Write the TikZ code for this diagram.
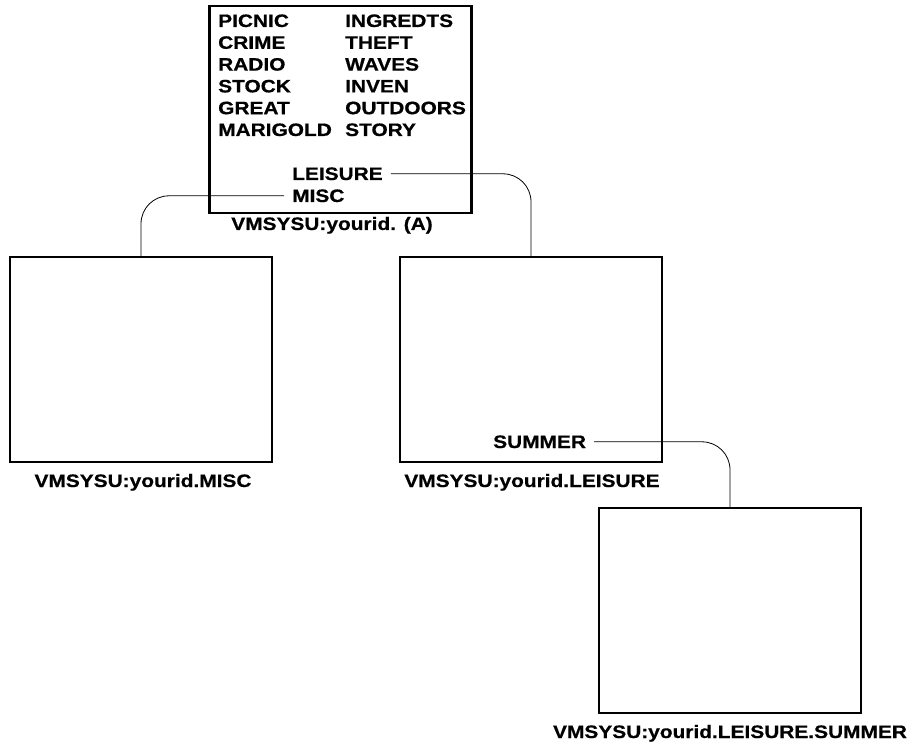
\documentclass[tikz,border=0pt]{standalone}
\usepackage{fontspec}
\newfontfamily\dirfont[FakeStretch=1.16, FakeBold=0.6]{Liberation Sans}
\usetikzlibrary{positioning}
\tikzset{
  panel/.style = {draw, line width = 2.4pt, minimum width = 262pt, minimum height = 205pt, inner sep = 0pt},
  word/.style = {anchor = base west, inner sep = 0pt},
  entry/.style = {anchor = base west, inner xsep = 8pt, inner ysep = 0pt},
  caption/.style = {anchor = base},
  link/.style = {line width = 0.8pt, rounded corners = 28pt}
}
\begin{document}
\begin{tikzpicture}[x = 1pt, y = -1pt, font = \dirfont\bfseries\fontsize{18}{21}\selectfont]
\useasboundingbox (0,0) rectangle (913,751);
% top directory
\node [panel, minimum height = 207pt] (topbox) at (340.5,109.5) {};
\foreach \l/\r [count = \i] in {PICNIC/INGREDTS, CRIME/THEFT, RADIO/WAVES, STOCK/INVEN, GREAT/OUTDOORS, MARIGOLD/STORY}{
\node [word] (left\i) at (218,{27+21.8*(\i-1)}) {\l};
\node [word] (right\i) at (345,{27+21.8*(\i-1)}) {\r};
}
\node [entry] (leisure) at (284,180) {LEISURE};
\node [entry] (misc) at (284,202) {MISC};
\node [caption] (topcap) at (332,230) {VMSYSU:yourid. (A)};
% subdirectories
\node [panel] (miscbox) at (141,359.5) {};
\node [caption] (misccap) at (143,487) {VMSYSU:yourid.MISC};
\node [panel] (leisurebox) at (531,359.5) {};
\node [caption] (leisurecap) at (532,487) {VMSYSU:yourid.LEISURE};
\node [entry] (summer) at (485,448) {SUMMER};
\node [panel] (summerbox) at (730,610.5) {};
\node [caption] (summercap) at (730,738) {VMSYSU:yourid.LEISURE.SUMMER};
% links
\draw [link] (leisure.east) -| (leisurebox.north);
\draw [link] (misc.west) -| (miscbox.north);
\draw [link] (summer.east) -| (summerbox.north);
\end{tikzpicture}
\end{document}
